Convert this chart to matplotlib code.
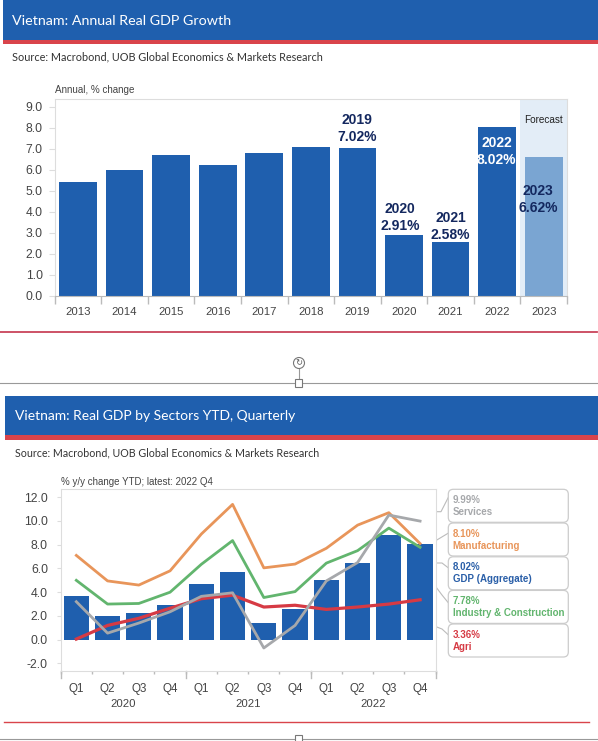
import matplotlib
matplotlib.use("Agg")
import matplotlib.pyplot as plt
from matplotlib.patches import FancyBboxPatch, Rectangle, Circle

W, H = 598, 741

years = ["2013", "2014", "2015", "2016", "2017", "2018", "2019", "2020", "2021", "2022", "2023"]
annual_growth = [5.42, 5.98, 6.68, 6.21, 6.81, 7.08, 7.02, 2.91, 2.58, 8.02, 6.62]

quarters = ["Q1", "Q2", "Q3", "Q4"] * 3
quarter_years = ["2020", "2021", "2022"]
gdp = [3.68, 2.03, 2.26, 2.91, 4.65, 5.74, 1.42, 2.58, 5.05, 6.42, 8.83, 8.02]
manufacturing = [7.1, 4.95, 4.6, 5.8, 8.9, 11.4, 6.05, 6.37, 7.7, 9.65, 10.7, 8.1]
industry = [5.0, 3.0, 3.05, 4.0, 6.35, 8.35, 3.55, 4.05, 6.45, 7.5, 9.4, 7.78]
services = [3.2, 0.55, 1.4, 2.35, 3.65, 3.95, -0.7, 1.2, 4.95, 6.5, 10.5, 9.99]
agri = [0.05, 1.2, 1.8, 2.65, 3.45, 3.75, 2.75, 2.9, 2.55, 2.75, 3.0, 3.36]

BLUE = "#1f5fae"
LIGHT_BLUE = "#7aa5d2"
NAVY = "#14285f"
RED = "#d9444b"
GREY_TXT = "#444444"
SPINE = "#dddddd"
TICK = "#bbbbbb"
ORANGE = "#e8955a"
GREEN = "#62b56e"
GREY = "#a6a8ab"
AGRI = "#d63a44"

plt.rcParams["font.family"] = ["Liberation Sans", "DejaVu Sans"]

fig = plt.figure(figsize=(W / 100, H / 100), dpi=100, facecolor="white")


def px_axes(left, top, right, bottom):
    return fig.add_axes([left / W, 1 - bottom / H, (right - left) / W, (bottom - top) / H])


# page furniture, in pixels
page = fig.add_axes([0, 0, 1, 1], zorder=0)
page.set_xlim(0, W)
page.set_ylim(H, 0)
page.axis("off")


def banner(x0, y0, y1, y2, title, title_x, title_size, source, src_x, src_y, src_size):
    page.add_patch(Rectangle((x0, y0), W - x0, y1 - y0, color=BLUE, lw=0))
    page.add_patch(Rectangle((x0, y1), W - x0, y2 - y1, color=RED, lw=0))
    page.text(title_x, (y0 + y1) / 2 + 1, title, color="white", fontsize=title_size,
              family="Lato", va="center")
    page.text(src_x, src_y, source, color="#333333", fontsize=src_size, family="Lato", va="center")


SOURCE = "Source: Macrobond, UOB Global Economics & Markets Research"
banner(3, 0, 40, 44, "Vietnam: Annual Real GDP Growth", 12, 10.3, SOURCE, 12.5, 57, 7.8)
banner(5, 396, 435, 440, "Vietnam: Real GDP by Sectors YTD, Quarterly", 15, 10.0, SOURCE, 15, 453, 7.65)

page.plot([0, 597], [331.7, 331.7], color="#c9445a", lw=1.3)
page.plot([4, 589], [722.3, 722.3], color=RED, lw=1.0)
page.plot([0, W], [383.4, 383.4], color="#999999", lw=0.8)
page.plot([0, W], [739.4, 739.4], color="#999999", lw=0.8)
page.plot([299, 299], [369, 380], color="#999999", lw=0.8)
page.add_patch(Circle((299, 363), 5.5, fc="white", ec="#777777", lw=0.8))
page.text(299, 363, "\u21bb", fontsize=6, ha="center", va="center", color="#555555", family="DejaVu Sans")
for y in (383.4, 739.4):
    page.add_patch(Rectangle((295, y - 4), 7, 8, fc="white", ec="#777777", lw=0.8, zorder=3))

# top chart
ax1 = px_axes(54.7, 99, 567, 295.7)
x1 = list(range(len(years)))
ax1.axvspan(9.5, 10.5, color="#e3edf7", lw=0, zorder=0)
colors = [BLUE] * 10 + [LIGHT_BLUE]
ax1.bar(x1, annual_growth, width=0.81, color=colors, zorder=2)
ax1.set_xlim(-0.5, 10.5)
ax1.set_ylim(0, 9.37)
ax1.set_yticks(range(0, 10))
ax1.set_yticklabels([f"{v:.1f}" for v in range(0, 10)])
ax1.set_xticks(x1)
ax1.set_xticklabels(years)
ax1.set_xticks([i - 0.5 for i in range(12)], minor=True)
ax1.tick_params(axis="x", which="major", length=0, labelsize=8.2, labelcolor=GREY_TXT, pad=8.3)
ax1.tick_params(axis="x", which="minor", length=5.8, color=TICK, width=1)
ax1.tick_params(axis="y", length=4.3, color=SPINE, labelsize=8.7, labelcolor=GREY_TXT, pad=4.3)
for side in ax1.spines.values():
    side.set_color(SPINE)
ax1.spines["bottom"].set_color(TICK)
ax1.text(0, 1.02, "Annual, % change", transform=ax1.transAxes, fontsize=7.1, color=GREY_TXT, va="bottom")
ax1.text(10, 8.37, "Forecast", fontsize=7.2, color="#222222", ha="center", va="center", zorder=3)

callouts = [
    (6.0, 7.98, "2019\n7.02%", NAVY),
    (6.91, 3.73, "2020\n2.91%", NAVY),
    (8.0, 3.30, "2021\n2.58%", NAVY),
    (8.99, 6.89, "2022\n8.02%", "white"),
    (9.88, 4.60, "2023\n6.62%", NAVY),
]
for x, y, label, col in callouts:
    ax1.text(x, y, label, color=col, fontsize=10, fontweight="bold", ha="center", va="center",
             linespacing=1.28, zorder=4)

# bottom chart
ax2 = px_axes(60.7, 489.3, 435.7, 671)
x2 = list(range(len(quarters)))
ax2.bar(x2, gdp, width=0.81, color=BLUE, zorder=2)
ax2.plot(x2, manufacturing, color=ORANGE, lw=2.0, zorder=3)
ax2.plot(x2, industry, color=GREEN, lw=2.0, zorder=3)
ax2.plot(x2, agri, color=AGRI, lw=2.3, zorder=3)
ax2.plot(x2, services, color=GREY, lw=2.0, zorder=4)
ax2.set_xlim(-0.5, 11.5)
ax2.set_ylim(-2.64, 12.67)
yt = [-2, 0, 2, 4, 6, 8, 10, 12]
ax2.set_yticks(yt)
ax2.set_yticklabels([f"{v:.1f}" for v in yt])
ax2.set_xticks(x2)
ax2.set_xticklabels(quarters)
ax2.set_xticks([i - 0.5 for i in range(13)], minor=True)
ax2.tick_params(axis="x", which="major", length=0, labelsize=8.4, labelcolor=GREY_TXT, pad=8.6)
ax2.tick_params(axis="x", which="minor", length=2.2, color=TICK, width=1)
ax2.tick_params(axis="y", length=2.7, color=SPINE, labelsize=8.8, labelcolor=GREY_TXT, pad=6.5)
for side in ax2.spines.values():
    side.set_color(SPINE)
ax2.text(0, 1.012, "% y/y change YTD; latest: 2022 Q4", transform=ax2.transAxes, fontsize=7,
         color=GREY_TXT, va="bottom")
for i, yr in enumerate(quarter_years):
    ax2.plot([4 * i - 0.5] * 2, [0, -0.04], transform=ax2.get_xaxis_transform(),
             color=TICK, lw=1, clip_on=False)
    ax2.text(4 * i + 1.5, -0.181, yr, transform=ax2.get_xaxis_transform(), fontsize=8.2,
             color=GREY_TXT, ha="center", va="center")
ax2.plot([11.5] * 2, [0, -0.04], transform=ax2.get_xaxis_transform(), color=TICK, lw=1, clip_on=False)

# callout boxes to the right of the chart
legend_labels = ["Services", "Manufacturing", "GDP (Aggregate)", "Industry & Construction", "Agri"]
legend_values = [services[-1], manufacturing[-1], gdp[-1], industry[-1], agri[-1]]
legend_colors = ["#a6a8ab", ORANGE, "#2a5fa8", GREEN, AGRI]
box_tops = [489.3, 523, 556.8, 590.4, 624]
leaders = [
    ([436, 441, 448.5], [511.7, 511.7, 497]),
    ([436, 448.5], [540.5, 533]),
    ([436, 442, 448.5], [563, 563, 568]),
    ([436, 442, 448.5], [587, 595, 603]),
    ([436, 442, 448.5], [626.7, 629, 635]),
]
for label, val, col, top, (lx, ly) in zip(legend_labels, legend_values, legend_colors, box_tops, leaders):
    page.plot(lx, ly, color=TICK, lw=0.8, zorder=1)
    page.add_patch(FancyBboxPatch((448.3, top), 120, 33, boxstyle="round,pad=0,rounding_size=5",
                                  fc="white", ec="#cccccc", lw=0.9, zorder=2))
    page.text(452.7, top + 10.7, f"{val:.2f}%", color=col, fontsize=7.0, fontweight="bold", va="center", zorder=3)
    page.text(452.7, top + 22.7, label, color=col, fontsize=7.0, fontweight="bold", va="center", zorder=3)

fig.savefig("out.png", dpi=100)
